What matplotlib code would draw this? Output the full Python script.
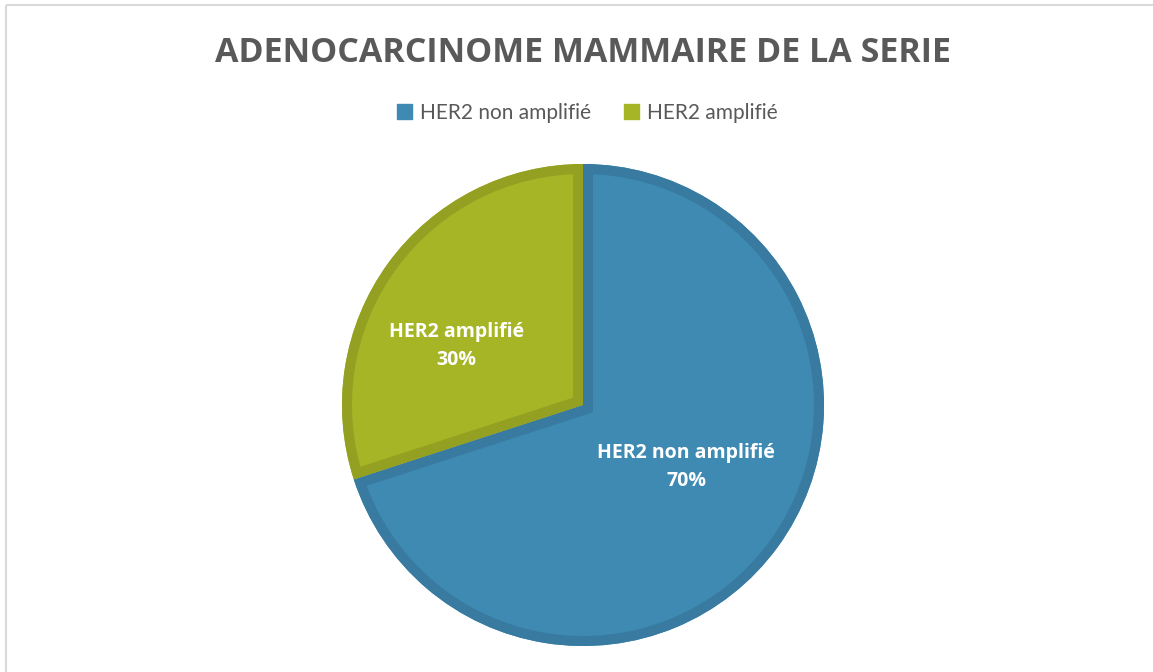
import numpy as np
import matplotlib.pyplot as plt
from matplotlib.patches import PathPatch

title = "ADENOCARCINOME MAMMAIRE DE LA SERIE"
categories = ["HER2 non amplifié", "HER2 amplifié"]
values = [70, 30]

fill_colors = ["#3E8AB3", "#A6B526"]
edge_colors = ["#387AA0", "#93A022"]
# label placement (angle in degrees, distance as fraction of radius)
label_pos = [(-31, 0.50), (155, 0.58)]

W, H = 1153, 672
fig = plt.figure(figsize=(W / 100, H / 100), dpi=100)
ax = fig.add_axes([0, 0, 1, 1])

cx, cy, r = 583, H - 405, 241
wedges, _ = ax.pie(values, colors=fill_colors, startangle=90, counterclock=False,
                   center=(cx, cy), radius=r, frame=True)
ax.set_xlim(0, W)
ax.set_ylim(0, H)
ax.set_aspect("equal")
ax.axis("off")

# thin grey frame (top and left visible)
ax.plot([6, 6], [0, H - 5], color="#D9D9D9", lw=1.5, solid_capstyle="butt")
ax.plot([6, W], [H - 5, H - 5], color="#D9D9D9", lw=1.5, solid_capstyle="butt")

# inner darker border: thick stroke clipped to the wedge itself
for w, ec in zip(wedges, edge_colors):
    w.set_linewidth(0)
    border = PathPatch(w.get_path(), transform=w.get_transform(), facecolor="none",
                       edgecolor=ec, linewidth=14.4, joinstyle="miter")
    ax.add_patch(border)
    border.set_clip_path(w)

for (ang, dist), name, v in zip(label_pos, categories, values):
    a = np.deg2rad(ang)
    ax.text(cx + dist * r * np.cos(a), cy + dist * r * np.sin(a), f"{name}\n{v}%",
            ha="center", va="center", color="white", fontsize=14, fontweight="bold",
            family="Open Sans", linespacing=1.5)

fig.text(583, H - 53, title, transform=None, ha="center", va="center", fontsize=24.5,
         fontweight="bold", color="#595959", family="Open Sans")

handles = [plt.Rectangle((0, 0), 1, 1, color=c) for c in fill_colors]
leg = fig.legend(handles, categories, loc="center", bbox_to_anchor=(587 / W, 1 - 113 / H),
                 ncol=2, frameon=False, handlelength=0.75, handleheight=0.75,
                 handletextpad=0.35, columnspacing=1.6,
                 prop={"family": "Lato", "size": 15})
for t in leg.get_texts():
    t.set_color("#595959")

fig.savefig("out.png", dpi=100)
